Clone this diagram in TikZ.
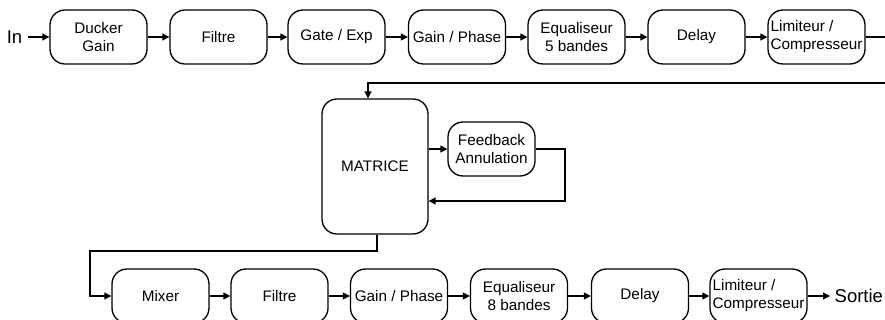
\documentclass[tikz,border=0pt]{standalone}
\usepackage{fontspec}
\setmainfont{Liberation Sans}
\usetikzlibrary{arrows.meta}
\begin{document}
\begin{tikzpicture}[x=1pt, y=-1pt, line width=1.3pt,
    bloc/.style={draw, rounded corners=15pt, minimum width=97pt, minimum height=54pt, align=center, inner sep=1pt, font=\fontsize{15.3}{18}\selectfont},
    io/.style={inner sep=0pt, font=\fontsize{18.5}{21}\selectfont},
    fleche/.style={-{Triangle[length=7pt,width=7pt]}}]
    \useasboundingbox (0,0) rectangle (885,320);
    \clip (0,0) rectangle (885,320);
    \node[io] (in) at (14.5,37) {In};
    \node[bloc] (duck) at (98.5,37) {Ducker\\Gain};
    \node[bloc] (filt1) at (218.5,37) {Filtre};
    \node[bloc] (gate) at (336.5,37) {Gate / Exp};
    \node[bloc] (gain1) at (457,37) {Gain / Phase};
    \node[bloc] (eq1) at (576.5,37) {Equaliseur\\5 bandes};
    \node[bloc] (del1) at (696.5,37) {Delay};
    \node[bloc, align=left] (lim1) at (816.5,37) {Limiteur /\\Compresseur};
    \node[bloc, minimum width=106pt, minimum height=135pt] (mat) at (375,166.5) {MATRICE};
    \node[bloc, minimum width=87pt] (fb) at (491.5,149) {Feedback\\Annulation};
    \node[bloc] (mix) at (160.5,296) {Mixer};
    \node[bloc] (filt2) at (279.5,296) {Filtre};
    \node[bloc] (gain2) at (399,296) {Gain / Phase};
    \node[bloc] (eq2) at (519,296) {Equaliseur\\8 bandes};
    \node[bloc] (del2) at (640,296) {Delay};
    \node[bloc, align=left] (lim2) at (758.5,296) {Limiteur /\\Compresseur};
    \node[io, anchor=west] (out) at (834,296) {Sortie};
    \coordinate (bord) at (890,37);
    \coordinate (retour) at (890,83);
    \coordinate (bas) at (90,251);
    \coordinate (boucle) at (565,201);
    \draw[fleche] ([xshift=5pt]in.east) -- (duck);
    \draw[fleche] (duck) -- (filt1);
    \draw[fleche] (filt1) -- (gate);
    \draw[fleche] (gate) -- (gain1);
    \draw[fleche] (gain1) -- (eq1);
    \draw[fleche] (eq1) -- (del1);
    \draw[fleche] (del1) -- (lim1);
    \draw[fleche] (lim1) -- (bord) -- (retour) -- ([xshift=-7pt]mat.north |- retour) -- ([xshift=-7pt]mat.north);
    \draw[fleche] (mat.east |- fb.west) -- (fb.west);
    \draw[fleche] (fb.east) -| (boucle) -- (mat.east |- boucle);
    \draw[fleche] ([xshift=2pt]mat.south) |- (bas) |- (mix.west);
    \draw[fleche] (mix) -- (filt2);
    \draw[fleche] (filt2) -- (gain2);
    \draw[fleche] (gain2) -- (eq2);
    \draw[fleche] (eq2) -- (del2);
    \draw[fleche] (del2) -- (lim2);
    \draw[fleche] (lim2) -- ([xshift=-4pt]out.west);
\end{tikzpicture}
\end{document}
